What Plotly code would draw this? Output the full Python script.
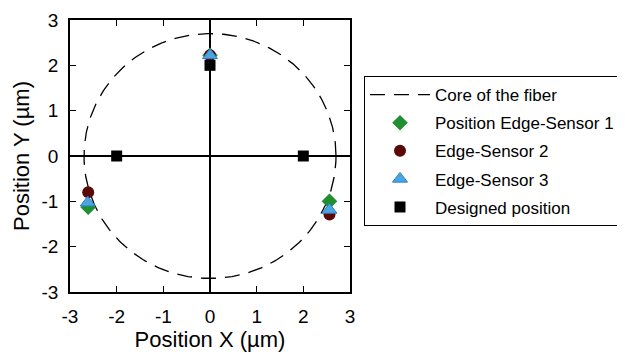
import numpy as np
import plotly.graph_objects as go

# Data
core_radius = 2.7
designed_x = [0, -2, 2]
designed_y = [2, 0, 0]
s1_x = [0, -2.61, 2.56]
s1_y = [2.22, -1.13, -1.0]
s2_x = [0, -2.61, 2.56]
s2_y = [2.22, -0.8, -1.29]
s3_x = [0, -2.62, 2.56]
s3_y = [2.22, -1.03, -1.19]
x_ticks = [-3, -2, -1, 0, 1, 2, 3]
y_ticks = [-3, -2, -1, 0, 1, 2, 3]

theta = np.linspace(0, 2 * np.pi, 361)
circ_x = core_radius * np.cos(theta)
circ_y = core_radius * np.sin(theta)

fig = go.Figure()
fig.add_trace(go.Scatter(x=circ_x, y=circ_y, mode="lines", name="Core of the fiber",
                         line=dict(color="black", width=1.3, dash="15px,9px"),
                         legendgroup="a"))
fig.add_trace(go.Scatter(x=s1_x, y=s1_y, mode="markers", name="Position Edge-Sensor 1",
                         marker=dict(symbol="diamond", size=12, color="#1f8f32",
                                     line=dict(width=0)), legendgroup="b"))
fig.add_trace(go.Scatter(x=s2_x, y=s2_y, mode="markers", name="Edge-Sensor 2",
                         marker=dict(symbol="circle", size=12, color="#5a0808",
                                     line=dict(width=0)), legendgroup="c"))
fig.add_trace(go.Scatter(x=s3_x, y=s3_y, mode="markers", name="Edge-Sensor 3",
                         marker=dict(symbol="triangle-up", size=13, color="#4aa6e2",
                                     line=dict(width=1, color="#2f7fc0")), legendgroup="d"))
fig.add_trace(go.Scatter(x=designed_x, y=designed_y, mode="markers", name="Designed position",
                         marker=dict(symbol="square", size=11, color="black",
                                     line=dict(width=0)), legendgroup="e"))

axis_common = dict(showgrid=False, zeroline=True, zerolinecolor="black", zerolinewidth=1.5,
                   showline=True, linecolor="black", linewidth=1.5, mirror="ticks",
                   ticks="inside", ticklen=6, tickwidth=1.3, tickcolor="black",
                   automargin=False, ticklabelstandoff=6, ticklabeloverflow="allow",
                   tickfont=dict(family="Liberation Sans, Arial", size=19, color="black"))

# page body has an 8px default margin, so offsets are reduced by 8px
fig.update_layout(
    width=625, height=358,
    margin=dict(l=62, r=283, t=12, b=74),
    plot_bgcolor="white", paper_bgcolor="white",
    font=dict(family="Liberation Sans, Arial", color="black"),
    xaxis=dict(range=[-3, 3], tickvals=x_ticks, ticktext=[str(v) for v in x_ticks],
               title=dict(text="Position X (µm)", font=dict(size=22), standoff=6),
               **axis_common),
    yaxis=dict(range=[-3, 3], tickvals=y_ticks, ticktext=[str(v) for v in y_ticks],
               title=dict(text="Position Y (µm)", font=dict(size=22), standoff=6),
               **axis_common),
    showlegend=True,
    legend=dict(x=1.05, y=0.794, xanchor="left", yanchor="top",
                bordercolor="black", borderwidth=1, bgcolor="white",
                font=dict(size=17, family="Liberation Sans, Arial", color="black"),
                tracegroupgap=3, itemwidth=60),
)

fig.write_html("out.html", config={"displayModeBar": False})
